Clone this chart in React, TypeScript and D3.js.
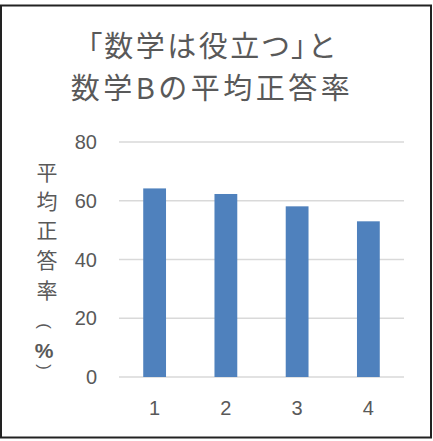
import React from "react";
import * as d3 from "d3";

const categories = ["1", "2", "3", "4"];
const values = [64.2, 62.3, 58.1, 53.0];
const yTicks = [0, 20, 40, 60, 80];
const titleLines = ["「数学は役立つ」と", "数学Bの平均正答率"];
const yLabelChars = ["平", "均", "正", "答", "率"];
const yLabelOffsets = [0, 29, 58, 88, 118];

export default function App() {
  const W = 433, H = 441;
  const x = d3.scaleBand<string>().domain(categories).range([119, 404]).paddingInner(0.68).paddingOuter(0.34);
  const y = d3.scaleLinear().domain([0, 80]).range([377, 142]);
  const textColor = "#595959";
  const font = "'Noto Sans CJK JP', 'Liberation Sans', sans-serif";
  const latin = "'Liberation Sans', sans-serif";
  return (
    <svg width={W} height={H} style={{ position: "absolute", left: 0, top: 0, background: "#fff" }}>
      <rect x={0} y={0} width={W} height={H} fill="#fff" />
      <rect x={1} y={5.5} width={430} height={432} fill="none" stroke="#222" strokeWidth={2} />
      {titleLines.map((t, i) => (
        <text
          key={i}
          x={212}
          y={57 + i * 42}
          textAnchor="middle"
          fontSize={29}
          fill={textColor}
          fontFamily={font}
          letterSpacing={i === 0 ? 2.5 : 3.5}
          style={{ fontFeatureSettings: i === 0 ? '"palt"' : "normal" }}
        >
          {t}
        </text>
      ))}
      {yTicks.map((t) => (
        <g key={t}>
          <line x1={119} x2={404} y1={y(t)} y2={y(t)} stroke="#D9D9D9" strokeWidth={1.5} />
          <text x={97} y={y(t)} dy="0.36em" textAnchor="end" fontSize={20} fill={textColor} fontFamily={latin}>
            {t}
          </text>
        </g>
      ))}
      {categories.map((c, i) => (
        <rect key={c} x={x(c)} y={y(values[i])} width={x.bandwidth()} height={y(0) - y(values[i])} fill="#4F81BD" />
      ))}
      {categories.map((c) => (
        <text key={c} x={(x(c) as number) + x.bandwidth() / 2} y={415} textAnchor="middle" fontSize={20} fill={textColor} fontFamily={latin}>
          {c}
        </text>
      ))}
      {yLabelChars.map((ch, i) => (
        <text key={i} x={47} y={171 + yLabelOffsets[i]} dominantBaseline="central" textAnchor="middle" fontSize={21} fill={textColor} fontFamily={font}>
          {ch}
        </text>
      ))}
      <text x={0} y={0} transform="translate(44,326) rotate(90)" dominantBaseline="central" textAnchor="middle" fontSize={17} fill={textColor} fontFamily={latin}>
        (
      </text>
      <text x={44} y={350} dominantBaseline="central" textAnchor="middle" fontSize={21} fill={textColor} fontFamily={latin} fontWeight={600}>
        %
      </text>
      <text x={0} y={0} transform="translate(44,367) rotate(90)" dominantBaseline="central" textAnchor="middle" fontSize={17} fill={textColor} fontFamily={latin}>
        )
      </text>
    </svg>
  );
}
